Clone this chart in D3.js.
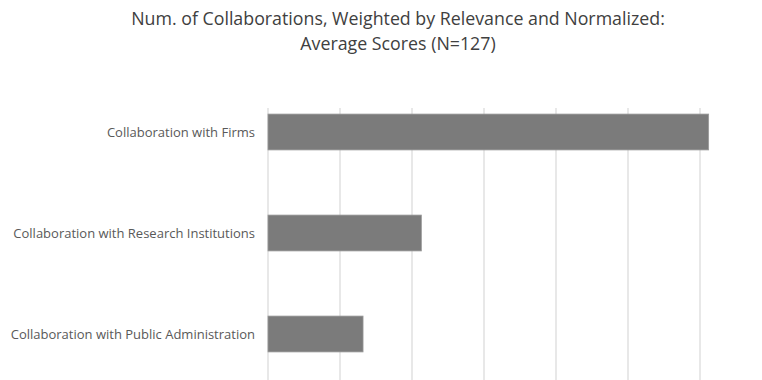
<!DOCTYPE html>
<html><head><meta charset="utf-8">
<script src="https://cdn.jsdelivr.net/npm/d3@7"></script>
<style>body{margin:0;background:#fff}svg{display:block}</style>
</head><body><svg id="c" width="762" height="380"></svg>
<script>
const categories = ["Collaboration with Firms","Collaboration with Research Institutions","Collaboration with Public Administration"];
const values = [0.612, 0.213, 0.132];
const gridTicks = [0,0.1,0.2,0.3,0.4,0.5,0.6];
const titleLines = ["Num. of Collaborations, Weighted by Relevance and Normalized:","Average Scores (N=127)"];

const svg = d3.select("#c");
const font = "'Open Sans', sans-serif";
const x = d3.scaleLinear().domain([0,0.7]).range([268, 772]);
const y = d3.scaleBand().domain(categories).range([81.5, 384.5]).paddingInner(0.645).paddingOuter(0.3225);

svg.append("g").selectAll("line").data(gridTicks).join("line")
  .attr("x1", d=>x(d)).attr("x2", d=>x(d)).attr("y1", 108).attr("y2", 380)
  .attr("stroke", "#d9d9d9").attr("stroke-width", 1.2);

svg.append("g").selectAll("rect").data(values).join("rect")
  .attr("x", x(0)).attr("y", (d,i)=>y(categories[i]))
  .attr("width", d=>x(d)-x(0)).attr("height", y.bandwidth())
  .attr("fill", "#7b7b7b").attr("stroke", "#9a9a9a").attr("stroke-width", 0.8);

svg.append("g").selectAll("text").data(categories).join("text")
  .attr("x", 255).attr("y", d=>y(d)+y.bandwidth()/2).attr("dy", "0.35em")
  .attr("text-anchor", "end").attr("font-family", font).attr("font-size", 13)
  .attr("fill", "#595959").text(d=>d);

svg.append("g").selectAll("text").data(titleLines).join("text")
  .attr("x", 398).attr("y", (d,i)=>25+i*25).attr("text-anchor", "middle")
  .attr("font-family", font).attr("font-size", 17.8).attr("fill", "#404040").text(d=>d);
</script></body></html>
